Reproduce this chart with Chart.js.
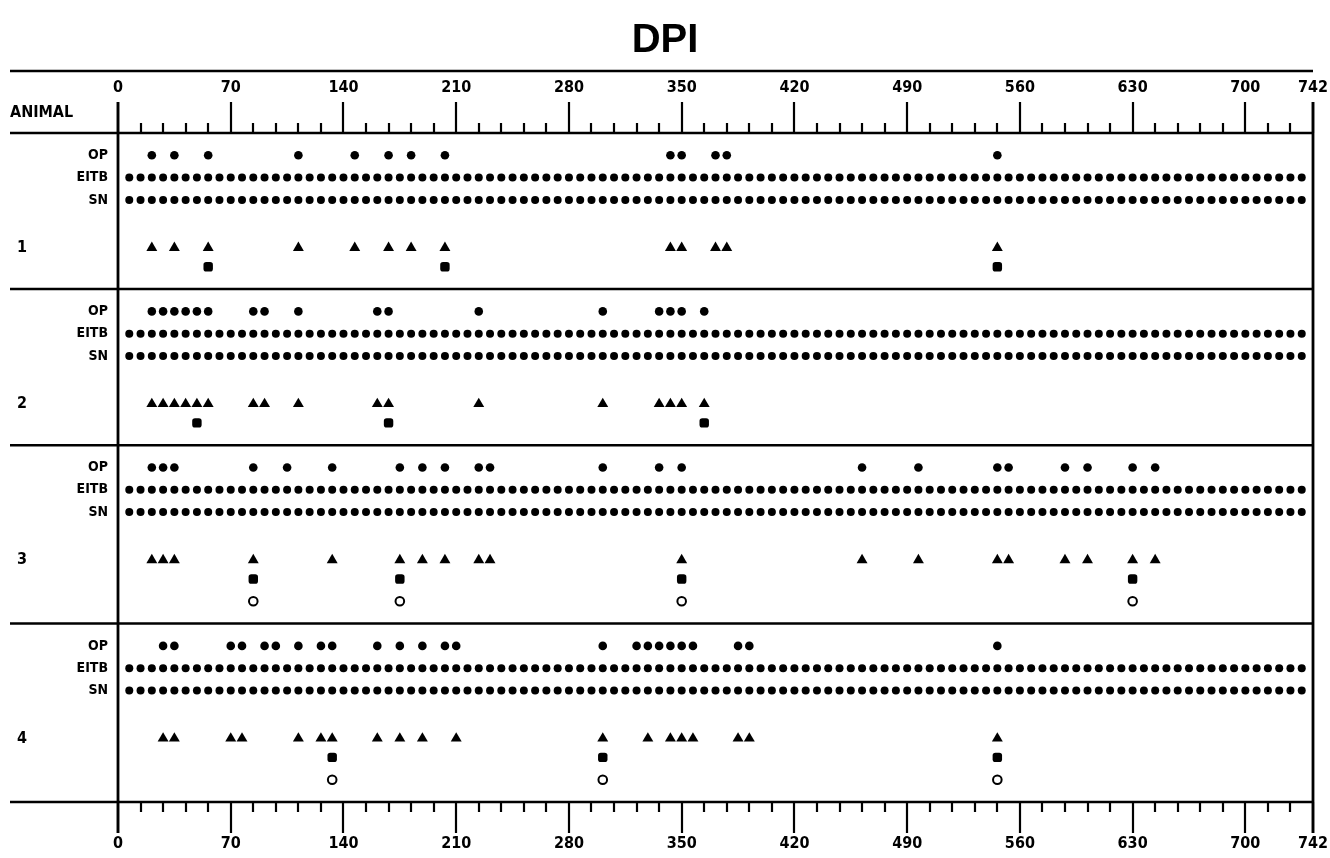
<!DOCTYPE html>
<html>
<head>
<meta charset="utf-8">
<title>DPI</title>
<script src="https://cdn.jsdelivr.net/npm/chart.js@4/dist/chart.umd.min.js"></script>
<style>
  html, body { margin: 0; background: #fff; }
  #wrap { width: 1330px; height: 858px; }
</style>
</head>
<body>
<div id="wrap"><canvas id="dpiChart"></canvas></div>
<script>
// days post infection
const animals = ['1', '2', '3', '4'];
const rowNames = ['OP', 'EITB', 'SN'];
const majorTicks = [0, 70, 140, 210, 280, 350, 420, 490, 560, 630, 700, 742];

// weekly samples (EITB and SN rows, same for every animal)
const sampleDays = [
  7, 14, 21, 28, 35, 42, 49, 56, 63, 70,
  77, 84, 91, 98, 105, 112, 119, 126, 133, 140,
  147, 154, 161, 168, 175, 182, 189, 196, 203, 210,
  217, 224, 231, 238, 245, 252, 259, 266, 273, 280,
  287, 294, 301, 308, 315, 322, 329, 336, 343, 350,
  357, 364, 371, 378, 385, 392, 399, 406, 413, 420,
  427, 434, 441, 448, 455, 462, 469, 476, 483, 490,
  497, 504, 511, 518, 525, 532, 539, 546, 553, 560,
  567, 574, 581, 588, 595, 602, 609, 616, 623, 630,
  637, 644, 651, 658, 665, 672, 679, 686, 693, 700,
  707, 714, 721, 728, 735
];

const opDays = [
  [21, 35, 56, 112, 147, 168, 182, 203, 343, 350, 371, 378, 546],
  [21, 28, 35, 42, 49, 56, 84, 91, 112, 161, 168, 224, 301, 336, 343, 350, 364],
  [21, 28, 35, 84, 105, 133, 175, 189, 203, 224, 231, 301, 336, 350, 462, 497, 546, 553, 588, 602, 630, 644],
  [28, 35, 70, 77, 91, 98, 112, 126, 133, 161, 175, 189, 203, 210, 301, 322, 329, 336, 343, 350, 357, 385, 392, 546]
];
const triangleDays = [
  [21, 35, 56, 112, 147, 168, 182, 203, 343, 350, 371, 378, 546],
  [21, 28, 35, 42, 49, 56, 84, 91, 112, 161, 168, 224, 301, 336, 343, 350, 364],
  [21, 28, 35, 84, 133, 175, 189, 203, 224, 231, 350, 462, 497, 546, 553, 588, 602, 630, 644],
  [28, 35, 70, 77, 112, 126, 133, 161, 175, 189, 210, 301, 329, 343, 350, 357, 385, 392, 546]
];
const squareDays = [
  [56, 203, 546],
  [49, 168, 364],
  [84, 175, 350, 630],
  [133, 301, 546]
];
const circleDays = [
  [],
  [],
  [84, 175, 350, 630],
  [133, 301, 546]
];

// layout of the rows inside each animal block (y units)
const blockStart = [0, 7, 14, 22];
const blockEnd = 30;
const rowOffset = { op: 1, eitb: 2, sn: 3, tri: 5.15, sq: 6, circ: 7 };

const plotFont = "'DejaVu Sans Condensed', 'DejaVu Sans', sans-serif";

function pts(days, y) {
  return days.map(d => ({ x: d, y: y }));
}

const datasets = [];
animals.forEach((a, i) => {
  const b = blockStart[i];
  datasets.push({ label: 'OP ' + a, data: pts(opDays[i], b + rowOffset.op), pointStyle: 'circle', pointRadius: 4.3, backgroundColor: '#000', borderWidth: 0 });
  datasets.push({ label: 'EITB ' + a, data: pts(sampleDays, b + rowOffset.eitb), pointStyle: 'circle', pointRadius: 4, backgroundColor: '#000', borderWidth: 0 });
  datasets.push({ label: 'SN ' + a, data: pts(sampleDays, b + rowOffset.sn), pointStyle: 'circle', pointRadius: 4, backgroundColor: '#000', borderWidth: 0 });
  datasets.push({ label: 'tri ' + a, data: pts(triangleDays[i], b + rowOffset.tri), pointStyle: 'triangle', pointRadius: 6.3, backgroundColor: '#000', borderWidth: 0 });
  datasets.push({ label: 'sq ' + a, data: pts(squareDays[i], b + rowOffset.sq), pointStyle: 'rectRounded', pointRadius: 5.5, backgroundColor: '#000', borderWidth: 0 });
  datasets.push({ label: 'circ ' + a, data: pts(circleDays[i], b + rowOffset.circ), pointStyle: 'circle', pointRadius: 4.3, backgroundColor: '#fff', borderColor: '#000', borderWidth: 2 });
});

// y tick labels: OP / EITB / SN and the animal numbers
const rowLabelAt = {};
const numberAt = {};
animals.forEach((a, i) => {
  rowLabelAt[blockStart[i] + rowOffset.op] = rowNames[0];
  rowLabelAt[blockStart[i] + rowOffset.eitb] = rowNames[1];
  rowLabelAt[blockStart[i] + rowOffset.sn] = rowNames[2];
  numberAt[blockStart[i] + rowOffset.tri] = a;
});

const frame = {
  id: 'frame',
  afterDraw(chart) {
    const { ctx, chartArea: area, scales } = chart;
    const x = scales.x, y = scales.y;
    const left = 10;
    ctx.save();
    ctx.strokeStyle = '#000';
    ctx.lineCap = 'butt';

    // horizontal rules
    ctx.lineWidth = 2.5;
    const rules = [x.top, area.top, area.bottom];
    blockStart.slice(1).forEach(v => rules.push(y.getPixelForValue(v)));
    rules.forEach(py => {
      ctx.beginPath();
      ctx.moveTo(left, py);
      ctx.lineTo(area.right, py);
      ctx.stroke();
    });

    // tick marks, top and bottom
    ctx.lineWidth = 2.2;
    const majorLen = 31, minorLen = 10;
    const ticks = majorTicks.slice();
    for (let v = 14; v < 742; v += 14) if (v % 70 !== 0) ticks.push(v);
    ticks.forEach(v => {
      const px = Math.round(x.getPixelForValue(v));
      const len = majorTicks.includes(v) ? majorLen : minorLen;
      ctx.beginPath();
      ctx.moveTo(px, area.top - len);
      ctx.lineTo(px, area.top);
      ctx.moveTo(px, area.bottom);
      ctx.lineTo(px, area.bottom + len);
      ctx.stroke();
    });

    // axis line at 0 and right border at 742
    ctx.lineWidth = 2.8;
    [0, 742].forEach(v => {
      const px = Math.round(x.getPixelForValue(v));
      ctx.beginPath();
      ctx.moveTo(px, area.top - majorLen);
      ctx.lineTo(px, area.bottom + majorLen);
      ctx.stroke();
    });

    ctx.fillStyle = '#000';
    ctx.font = 'bold 16px ' + plotFont;
    ctx.textAlign = 'left';
    ctx.textBaseline = 'middle';
    ctx.fillText('ANIMAL', left, area.top - 20);
    ctx.restore();
  }
};

const tickFont = { family: plotFont, size: 16, weight: 'bold' };
const noSidePadding = s => { s.paddingLeft = 0; s.paddingRight = 0; };

new Chart(document.getElementById('dpiChart'), {
  type: 'scatter',
  data: { datasets: datasets },
  options: {
    responsive: true,
    maintainAspectRatio: false,
    animation: false,
    events: [],
    layout: { padding: { left: 17, right: 17, top: 0, bottom: 0 } },
    plugins: {
      legend: { display: false },
      tooltip: { enabled: false },
      title: {
        display: true,
        text: 'DPI',
        color: '#000',
        font: { family: "'Liberation Sans', Arial, sans-serif", size: 40, weight: 'bold' },
        padding: { top: 17, bottom: 6 }
      }
    },
    scales: {
      x: {
        type: 'linear',
        position: 'top',
        min: 0,
        max: 742,
        afterBuildTicks: s => { s.ticks = majorTicks.map(v => ({ value: v })); },
        afterFit: s => { s.height = 62; noSidePadding(s); },
        ticks: { color: '#000', font: tickFont, padding: 36, maxRotation: 0, autoSkip: false, callback: v => String(v) },
        grid: { display: false, drawTicks: false },
        border: { display: false }
      },
      xb: {
        type: 'linear',
        position: 'bottom',
        min: 0,
        max: 742,
        afterBuildTicks: s => { s.ticks = majorTicks.map(v => ({ value: v })); },
        afterFit: s => { s.height = 56; noSidePadding(s); },
        ticks: { color: '#000', font: tickFont, padding: 32, maxRotation: 0, autoSkip: false, callback: v => String(v) },
        grid: { display: false, drawTicks: false },
        border: { display: false }
      },
      y: {
        type: 'linear',
        position: 'left',
        reverse: true,
        min: 0,
        max: blockEnd,
        weight: 0,
        afterBuildTicks: s => { s.ticks = Object.keys(rowLabelAt).map(v => ({ value: Number(v) })); },
        afterFit: s => { s.width = 78; s.paddingTop = 0; s.paddingBottom = 0; },
        ticks: { color: '#000', font: { family: plotFont, size: 14, weight: 'bold' }, padding: 10, autoSkip: false, callback: v => rowLabelAt[v] || '' },
        grid: { display: false, drawTicks: false },
        border: { display: false }
      },
      yn: {
        type: 'linear',
        position: 'left',
        reverse: true,
        min: 0,
        max: blockEnd,
        weight: 1,
        afterBuildTicks: s => { s.ticks = Object.keys(numberAt).map(v => ({ value: Number(v) })); },
        afterFit: s => { s.width = 23; s.paddingTop = 0; s.paddingBottom = 0; },
        ticks: { color: '#000', font: { family: plotFont, size: 16, weight: 'bold' }, crossAlign: 'far', autoSkip: false, callback: v => numberAt[v] || '' },
        grid: { display: false, drawTicks: false },
        border: { display: false }
      }
    }
  },
  plugins: [frame]
});
</script>
</body>
</html>
